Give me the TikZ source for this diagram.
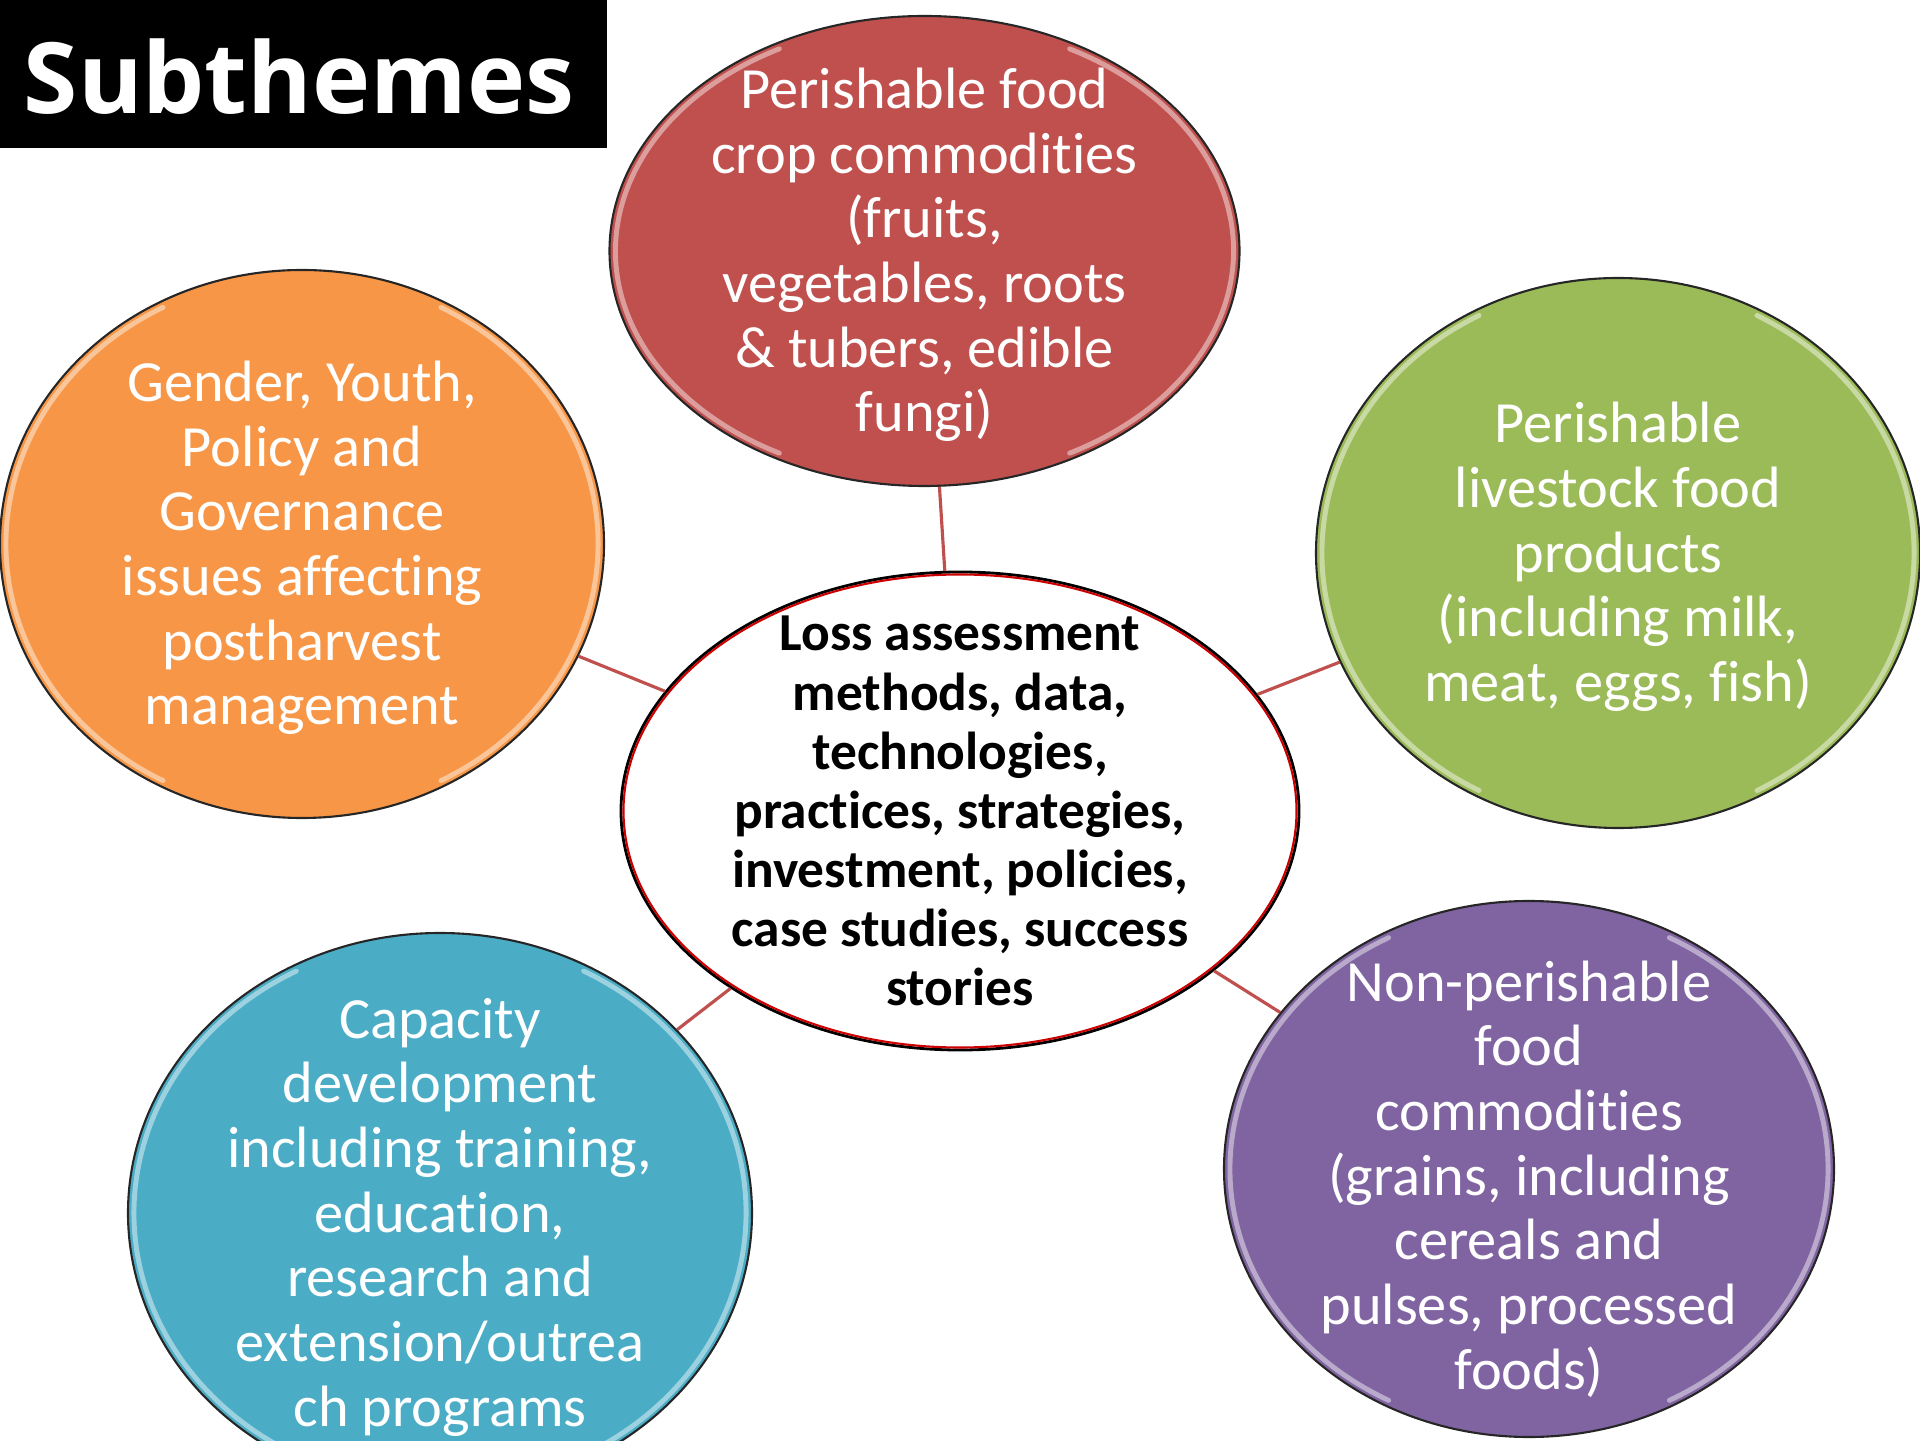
\documentclass[tikz,border=0pt]{standalone}
\usepackage{fontspec}
\setmainfont{Carlito}[Ligatures=NoCommon]
\newfontfamily\titlefont{Open Sans}
\usetikzlibrary{shapes.geometric}
\definecolor{cropred}{HTML}{C0504D}
\definecolor{govorange}{HTML}{F79646}
\definecolor{stockgreen}{HTML}{9BBB59}
\definecolor{capblue}{HTML}{4BACC6}
\definecolor{grainpurple}{HTML}{8064A2}
\tikzset{
    bubble/.style={ellipse, draw=black!85, line width=0.6pt, inner sep=0pt},
    bubbletext/.style={text=white, align=center, inner sep=0pt, yshift=-0.04cm,
        font=\fontsize{16.6}{18.4}\selectfont},
    hubnode/.style={ellipse, draw=black, line width=0.8pt, fill=white, inner sep=0pt},
    hubtext/.style={text=black, align=center, inner sep=0pt,
        font=\fontsize{15.2}{16.8}\selectfont\bfseries},
    link/.style={draw=cropred, line width=0.9pt},
    gloss/.style={draw=white, opacity=0.45, line width=1.4pt, line cap=round}
}
\newcommand{\gloss}[3]{%
    \begin{scope}[shift={(#1.center)}]
        \draw[gloss] (118:#2 and #3) arc[start angle=118, end angle=242, x radius=#2, y radius=#3];
        \draw[gloss] (-62:#2 and #3) arc[start angle=-62, end angle=62, x radius=#2, y radius=#3];
    \end{scope}}

\begin{document}
\begin{tikzpicture}
    \useasboundingbox (0,0) rectangle (19.2,14.4);
    \clip (0,0) rectangle (19.2,14.4);
    % title
    \fill[black] (0,12.92) rectangle (6.07,14.4);
    \node[text=white, font=\fontsize{28}{30}\selectfont\titlefont\bfseries] (title) at (2.99,13.63) {Subthemes};
    % subtheme bubbles
    \node[bubble, fill=cropred, minimum width=6.30cm, minimum height=4.70cm,
        label={[bubbletext]center:Perishable food\\crop commodities\\(fruits,\\vegetables, roots\\\& tubers, edible\\fungi)}]
        (crop) at (9.245,11.89) {};
    \node[bubble, fill=govorange, minimum width=6.04cm, minimum height=5.48cm,
        label={[bubbletext]center:Gender, Youth,\\Policy and\\Governance\\issues affecting\\postharvest\\management}]
        (gov) at (3.02,8.96) {};
    \node[bubble, fill=stockgreen, minimum width=6.04cm, minimum height=5.50cm,
        label={[bubbletext]center:Perishable\\livestock food\\products\\(including milk,\\meat, eggs, fish)}]
        (stock) at (16.18,8.87) {};
    \node[bubble, fill=capblue, minimum width=6.24cm, minimum height=5.60cm,
        label={[bubbletext]center:Capacity\\development\\including training,\\education,\\research and\\extension/outrea\\ch programs}]
        (cap) at (4.40,2.27) {};
    \node[bubble, fill=grainpurple, minimum width=6.10cm, minimum height=5.36cm,
        label={[bubbletext, yshift=-0.06cm]center:Non-perishable\\food\\commodities\\(grains, including\\cereals and\\pulses, processed\\foods)}]
        (grain) at (15.29,2.71) {};
    % centre
    \node[hubnode, minimum width=6.78cm, minimum height=4.78cm,
        label={[hubtext]center:Loss assessment\\methods, data,\\technologies,\\practices, strategies,\\investment, policies,\\case studies, success\\stories}]
        (hub) at (9.60,6.29) {};
    \draw[red!80!black, line width=0.6pt] (hub.center) ellipse[x radius=3.365, y radius=2.365];
    % highlights
    \gloss{crop}{3.09}{2.29}
    \gloss{gov}{2.96}{2.68}
    \gloss{stock}{2.96}{2.69}
    \gloss{cap}{3.06}{2.74}
    \gloss{grain}{2.99}{2.62}
    % connectors
    \draw[link] (hub) -- (crop);
    \draw[link] (hub) -- (gov);
    \draw[link] (hub) -- (stock);
    \draw[link] (hub) -- (cap);
    \draw[link] (hub) -- (grain);
\end{tikzpicture}
\end{document}
